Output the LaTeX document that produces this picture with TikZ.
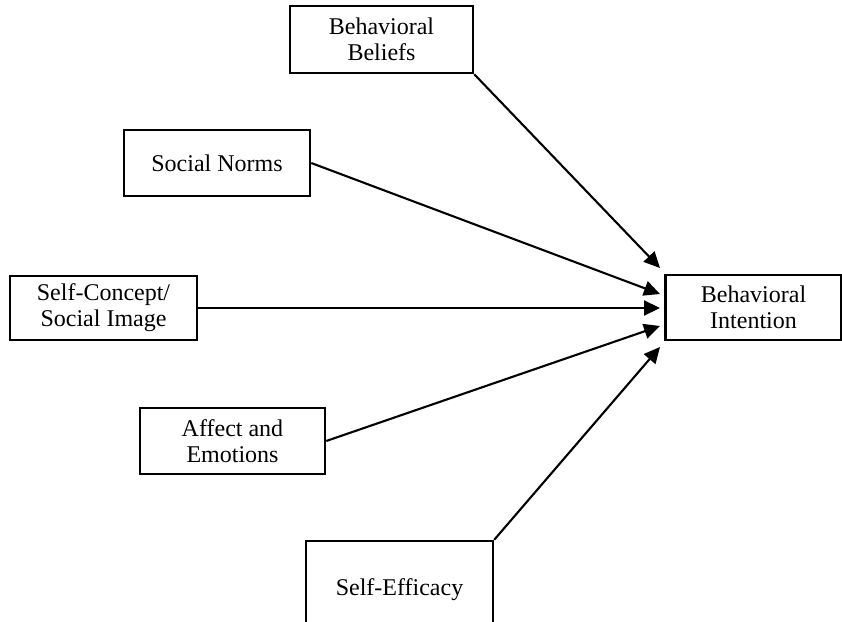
\documentclass[tikz,border=0pt]{standalone}
\usepackage{fontspec}
\setmainfont{Liberation Serif}
\usetikzlibrary{arrows.meta}
\begin{document}
\begin{tikzpicture}[x=1pt,y=-1pt,
  box/.style={draw, line width=2.5pt, align=center, inner sep=0pt,
    font=\fontsize{24}{26}\selectfont},
  arr/.style={line width=2.1pt, -{Triangle[length=16pt,width=15pt]}}]
\useasboundingbox (0,0) rectangle (842,621);
\node[box, minimum width=183pt, minimum height=67pt] (bb) at (381.5,39.5) {Behavioral\\Beliefs};
\node[box, minimum width=186pt, minimum height=66pt] (sn) at (217,163) {Social Norms};
\node[box, minimum width=187pt, minimum height=64pt] (sc) at (103.5,308) {Self-Concept/\\Social Image};
\node[box, minimum width=176pt, minimum height=65pt] (bi) at (753.5,307.5) {Behavioral\\Intention};
\node[box, minimum width=185pt, minimum height=66pt] (ae) at (232.5,441) {Affect and\\Emotions};
\node[box, minimum width=187pt, minimum height=98pt] (se) at (399.5,590) {Self-Efficacy};
\coordinate (t1) at (660,268);
\coordinate (t2) at (660,294);
\coordinate (t3) at (660,308);
\coordinate (t4) at (660,326);
\coordinate (t5) at (660,347);
\draw[arr] (bb.south east) -- (t1);
\draw[arr] (sn.east) -- (t2);
\draw[arr] (sc.east) -- (t3);
\draw[arr] (ae.east) -- (t4);
\draw[arr] (se.north east) -- (t5);
\end{tikzpicture}
\end{document}
